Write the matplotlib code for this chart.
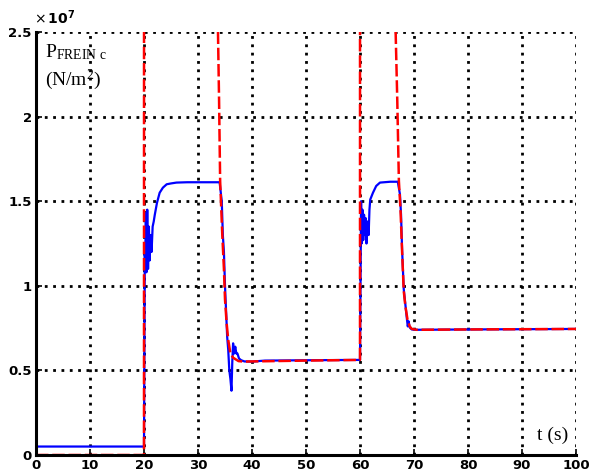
import matplotlib
matplotlib.use("Agg")
import matplotlib.pyplot as plt
from matplotlib.ticker import FuncFormatter

# time (s) and pressure (N/m^2) of the measured/estimated brake pressure
blue_t = [0, 20.0, 20.15, 20.2, 20.35, 20.45, 20.6, 20.75, 20.9, 21.05, 21.2, 21.4,
          21.6, 21.8, 22.0, 22.4, 22.9, 23.5, 24.2, 25.0, 26.0, 28.0, 31.0, 34.0,
          34.4, 34.6, 34.8, 35.0, 35.2, 35.4, 35.6, 35.8, 36.0, 36.2, 36.35, 36.5,
          36.7, 36.9, 37.1, 37.3, 37.6, 38.0, 38.6, 40.0, 42.4, 50.0, 60.0, 60.2,
          60.3, 60.45, 60.6, 60.75, 60.9, 61.05, 61.2, 61.4, 61.6, 61.75, 61.9, 62.4,
          63.0, 63.7, 65.6, 67.0, 67.4, 67.6, 67.8, 68.1, 68.3, 68.5, 68.7, 68.85,
          69.0, 69.15, 69.3, 69.6, 70.5, 80.0, 100.0]
blue_p = [0.05e7, 0.05e7, 1.2e7, 1.1e7, 1.43e7, 1.08e7, 1.45e7, 1.1e7, 1.35e7, 1.15e7, 1.3e7, 1.2e7,
          1.35e7, 1.38e7, 1.42e7, 1.49e7, 1.55e7, 1.58e7, 1.6e7, 1.605e7, 1.61e7, 1.612e7, 1.612e7, 1.612e7,
          1.5e7, 1.3e7, 1.2e7, 1.0e7, 0.85e7, 0.7e7, 0.62e7, 0.5e7, 0.45e7, 0.38e7, 0.55e7, 0.66e7,
          0.6e7, 0.64e7, 0.6e7, 0.6e7, 0.57e7, 0.56e7, 0.553e7, 0.552e7, 0.558e7, 0.56e7, 0.562e7, 1.5e7,
          1.25e7, 1.45e7, 1.27e7, 1.42e7, 1.3e7, 1.4e7, 1.25e7, 1.38e7, 1.3e7, 1.45e7, 1.51e7, 1.55e7,
          1.59e7, 1.61e7, 1.615e7, 1.615e7, 1.54e7, 1.42e7, 1.21e7, 0.98e7, 0.92e7, 0.86e7, 0.8e7, 0.76e7,
          0.79e7, 0.76e7, 0.75e7, 0.742e7, 0.74e7, 0.742e7, 0.745e7]

red_t = [0, 20.0, 20.01, 33.4, 33.7, 33.9, 34.1, 34.5, 34.8, 35.0, 35.3, 35.6, 36.0,
         36.5, 37.0, 37.5, 38.5, 40.0, 50.0, 59.95, 60.0, 60.01, 66.3, 66.6, 66.9,
         67.2, 67.5, 67.8, 68.1, 68.4, 68.8, 69.2, 69.6, 70.5, 80.0, 100.0]
red_p = [0.0, 0.0, 6.0e7, 6.0e7, 2.5e7, 2.1e7, 1.62e7, 1.3e7, 1.1e7, 0.92e7, 0.78e7, 0.68e7, 0.6e7,
         0.575e7, 0.565e7, 0.555e7, 0.552e7, 0.553e7, 0.558e7, 0.562e7, 0.562e7, 6.0e7, 6.0e7, 2.5e7, 2.1e7,
         1.62e7, 1.45e7, 1.2e7, 0.97e7, 0.88e7, 0.8e7, 0.76e7, 0.745e7, 0.74e7, 0.742e7, 0.745e7]

x_ticks = [0, 10, 20, 30, 40, 50, 60, 70, 80, 90, 100]
y_ticks = [0, 0.5e7, 1e7, 1.5e7, 2e7, 2.5e7]

fig = plt.figure(figsize=(5.9, 4.74), dpi=100)
ax = fig.add_axes([36/590, 19/474, 540/590, 423/474])

ax.plot(blue_t, blue_p, color='#0000ff', lw=1.6, zorder=3)
ax.plot(red_t, red_p, color='#ff0000', lw=1.8, dashes=(5, 1.5), zorder=4)

ax.set_xlim(0, 100)
ax.set_ylim(0, 2.5e7)
ax.set_xticks(x_ticks)
ax.set_yticks(y_ticks)
ax.yaxis.set_major_formatter(FuncFormatter(lambda v, p: '%g' % (v / 1e7)))
ax.xaxis.set_major_formatter(FuncFormatter(lambda v, p: '%g' % v))

ax.grid(True, color='black', lw=2, linestyle=(0, (1, 2)))
ax.set_axisbelow(True)
for s in ['top', 'right']:
    ax.spines[s].set_visible(False)
for s in ['left', 'bottom']:
    ax.spines[s].set_linewidth(2.2)
    ax.spines[s].set_zorder(6)

ax.tick_params(direction='in', length=4, width=1.2, labelsize=9.5, pad=3)
for lab in ax.get_xticklabels() + ax.get_yticklabels():
    lab.set_fontweight('bold')

fig.text(34/590, 1 - 18/474, r'$\times\,\mathregular{10^{7}}$', fontsize=10,
         fontweight='bold', ha='left', va='center')

serif = ['Liberation Serif', 'DejaVu Serif']
ax.text(0.016, 0.975, r'$\mathregular{P_{FREIN\ c}}$', transform=ax.transAxes,
        fontsize=14, family=serif, ha='left', va='top')
ax.text(0.016, 0.915, r'(N/m$\mathregular{^{2}}$)', transform=ax.transAxes,
        fontsize=14, family=serif, ha='left', va='top')
ax.text(0.985, 0.025, 't (s)', transform=ax.transAxes,
        fontsize=14, family=serif, ha='right', va='bottom')

fig.savefig('out.png', dpi=100)
